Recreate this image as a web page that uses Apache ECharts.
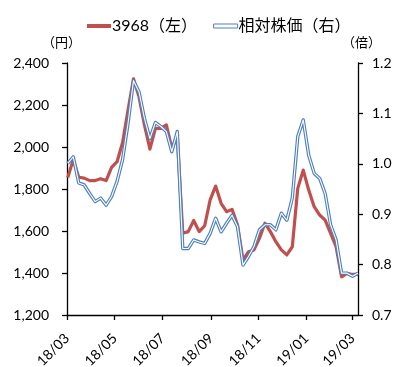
<!DOCTYPE html>
<html>
<head>
<meta charset="utf-8">
<script src="https://cdn.jsdelivr.net/npm/echarts@6/dist/echarts.min.js"></script>
<style>
  html, body { margin: 0; padding: 0; background: #fff; }
  #chart { width: 393px; height: 367px; }
</style>
</head>
<body>
<div id="chart"></div>
<script>
// Weekly closing dates (Fridays)
const weeks = [
  '2018-03-02','2018-03-09','2018-03-16','2018-03-23','2018-03-30',
  '2018-04-06','2018-04-13','2018-04-20','2018-04-27',
  '2018-05-04','2018-05-11','2018-05-18','2018-05-25',
  '2018-06-01','2018-06-08','2018-06-15','2018-06-22','2018-06-29',
  '2018-07-06','2018-07-13','2018-07-20','2018-07-27',
  '2018-08-03','2018-08-10','2018-08-17','2018-08-24','2018-08-31',
  '2018-09-07','2018-09-14','2018-09-21','2018-09-28',
  '2018-10-05','2018-10-12','2018-10-19','2018-10-26',
  '2018-11-02','2018-11-09','2018-11-16','2018-11-23','2018-11-30',
  '2018-12-07','2018-12-14','2018-12-21','2018-12-28',
  '2019-01-04','2019-01-11','2019-01-18','2019-01-25',
  '2019-02-01','2019-02-08','2019-02-15','2019-02-22',
  '2019-03-01','2019-03-08'
];

// 3968 share price (yen, left axis)
const price = [
  1855, 1940, 1856, 1852, 1840, 1840, 1849, 1840, 1903,
  1930, 2020, 2175, 2325,
  2240, 2105, 1990, 2089, 2089,
  2105, 1994, 2049, 1589,
  1597, 1650, 1597, 1625, 1748,
  1814, 1732, 1692, 1703,
  1629, 1462, 1501, 1510,
  1565, 1637, 1597, 1549, 1510,
  1486, 1525, 1803, 1890,
  1795, 1716, 1676, 1652,
  1589, 1525, 1382, 1398,
  1393, 1393
];

// Relative share price (times, right axis)
const relative = [
  1.001, 1.014, 0.962, 0.958, 0.941, 0.925, 0.932, 0.918, 0.935,
  0.965, 1.008, 1.080, 1.165,
  1.143, 1.090, 1.050, 1.082, 1.074,
  1.064, 1.024, 1.064, 0.832,
  0.832, 0.849, 0.845, 0.842, 0.862,
  0.892, 0.865, 0.882, 0.898,
  0.875, 0.799, 0.816, 0.836,
  0.869, 0.879, 0.879, 0.869, 0.902,
  0.888, 0.932, 1.054, 1.087,
  1.017, 0.981, 0.971, 0.941,
  0.879, 0.849, 0.783, 0.783,
  0.777, 0.783
];

// Month ticks on the date axis
const monthTicks = ['2018-03-01','2018-05-01','2018-07-01','2018-09-01','2018-11-01','2019-01-01','2019-03-01'];
const axisStart = '2018-03-01';
const axisEnd = '2019-03-08';

const seriesNames = ['3968（左）', '相対株価（右）'];
const unitLeft = '（円）';
const unitRight = '（倍）';

function ts(s) {
  const p = s.split('-').map(Number);
  return Date.UTC(p[0], p[1] - 1, p[2]);
}
function ym(v) {
  const d = new Date(v);
  const yy = String(d.getUTCFullYear()).slice(2);
  const mm = String(d.getUTCMonth() + 1).padStart(2, '0');
  return yy + '/' + mm;
}

const RED = '#C0504D';
const BLUE = '#4F81BD';
const AXIS = '#000000';
const LABEL_FONT = 'Lato, "Noto Sans CJK JP", sans-serif';

const tickValues = monthTicks.map(ts);
const priceData = weeks.map((w, i) => [ts(w), price[i]]);
const relData = weeks.map((w, i) => [ts(w), relative[i]]);

const chart = echarts.init(document.getElementById('chart'), null, { renderer: 'canvas' });

chart.setOption({
  animation: false,
  backgroundColor: '#ffffff',
  textStyle: { fontFamily: LABEL_FONT, color: '#000' },
  legend: {
    left: 82,
    top: 13,
    itemWidth: 24,
    itemHeight: 4,
    itemGap: 16,
    textStyle: { fontSize: 16, color: '#000', fontFamily: LABEL_FONT, padding: [0, 0, 0, -4] },
    data: [
      { name: seriesNames[0], icon: 'rect', itemStyle: { color: RED, borderWidth: 0 } },
      { name: seriesNames[1], icon: 'rect', itemStyle: { color: '#ffffff', borderColor: BLUE, borderWidth: 1 } }
    ]
  },
  graphic: [
    { type: 'text', left: 42, top: 36, style: { text: unitLeft, fontSize: 13, fill: '#000', fontFamily: '"Noto Sans CJK JP", sans-serif' } },
    { type: 'text', left: 342, top: 36, style: { text: unitRight, fontSize: 13, fill: '#000', fontFamily: '"Noto Sans CJK JP", sans-serif' } }
  ],
  grid: { left: 67, right: 35, top: 63, bottom: 52, containLabel: false, outerBoundsMode: 'none' },
  xAxis: {
    type: 'value',
    min: ts(axisStart),
    max: ts(axisEnd),
    axisLine: { show: true, lineStyle: { color: AXIS, width: 1.3 } },
    axisTick: { show: true, customValues: tickValues, length: 5, lineStyle: { color: AXIS, width: 1.3 } },
    splitLine: { show: false },
    axisLabel: {
      customValues: tickValues,
      formatter: (v) => ym(v),
      rotate: 45,
      margin: 21,
      fontSize: 14,
      color: '#000',
      fontFamily: LABEL_FONT,
      showMinLabel: true,
      showMaxLabel: true
    }
  },
  yAxis: [
    {
      type: 'value',
      min: 1200,
      max: 2400,
      interval: 200,
      position: 'left',
      axisLine: { show: true, lineStyle: { color: AXIS, width: 1.3 } },
      axisTick: { show: true, length: 5, lineStyle: { color: AXIS, width: 1.3 } },
      splitLine: { show: false },
      axisLabel: {
        margin: 18,
        fontSize: 14,
        color: '#000',
        fontFamily: LABEL_FONT,
        formatter: (v) => v.toLocaleString('en-US')
      }
    },
    {
      type: 'value',
      min: 0.7,
      max: 1.2,
      interval: 0.1,
      position: 'right',
      axisLine: { show: true, lineStyle: { color: AXIS, width: 1.3 } },
      axisTick: { show: true, length: 5, lineStyle: { color: AXIS, width: 1.3 } },
      splitLine: { show: false },
      axisLabel: {
        margin: 14,
        fontSize: 14,
        color: '#000',
        fontFamily: LABEL_FONT,
        formatter: (v) => v.toFixed(1)
      }
    }
  ],
  series: [
    {
      name: seriesNames[0],
      type: 'line',
      yAxisIndex: 0,
      data: priceData,
      showSymbol: false,
      symbol: 'none',
      lineStyle: { color: RED, width: 3.2, join: 'round' },
      itemStyle: { color: RED },
      z: 2
    },
    {
      // outer stroke of the double line
      name: seriesNames[1],
      type: 'line',
      yAxisIndex: 1,
      data: relData,
      showSymbol: false,
      symbol: 'none',
      lineStyle: { color: BLUE, width: 3.4, join: 'round' },
      itemStyle: { color: BLUE },
      z: 3
    },
    {
      // white core of the double line
      name: seriesNames[1],
      type: 'line',
      yAxisIndex: 1,
      data: relData,
      showSymbol: false,
      symbol: 'none',
      lineStyle: { color: '#ffffff', width: 1.1, join: 'round' },
      itemStyle: { color: '#ffffff' },
      z: 4
    }
  ]
});
</script>
</body>
</html>
